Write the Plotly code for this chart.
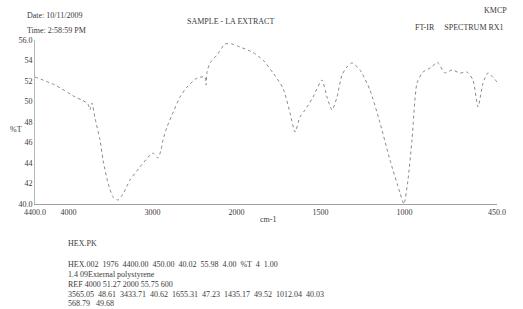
import plotly.graph_objects as go

# Spectrum data (wavenumber cm-1, %T)
wavenumber = [4400, 4162, 3900, 3840, 3770, 3746, 3721, 3686, 3626, 3590, 3531, 3471, 3412, 3352,
              3269, 3150, 3030, 2995, 2936, 2900, 2876, 2829, 2769, 2674, 2590, 2471, 2376, 2364,
              2352, 2317, 2233, 2138, 2055, 1980, 1908, 1843, 1783, 1724, 1682, 1652, 1623, 1593,
              1545, 1492, 1462, 1432, 1402, 1373, 1343, 1313, 1265, 1206, 1146, 1087, 1027, 1004,
              980, 956, 926, 890, 837, 807, 760, 718, 670, 629, 593, 563, 533, 504, 450]
transmittance = [52.39, 51.61, 50.34, 50.15, 49.76, 49.17, 49.85, 48.39, 46.24, 44.29, 42.05, 40.68,
                 40.39, 40.98, 42.34, 43.61, 44.78, 44.98, 44.49, 45.27, 46.24, 47.51, 48.68, 50.44,
                 51.41, 52.29, 52.39, 51.61, 52.88, 53.76, 54.54, 55.61, 55.61, 55.32, 54.83, 54.05,
                 52.78, 51.32, 48.88, 47.02, 48.49, 49.17, 50.44, 52.10, 50.44, 49.17, 50.44, 52.59,
                 53.37, 53.76, 53.07, 51.12, 47.90, 44.29, 41.07, 40.00, 42.34, 46.24, 51.80, 52.88,
                 53.37, 53.85, 52.78, 53.07, 52.78, 52.88, 52.10, 49.46, 51.80, 52.78, 51.90]

x_tick_values = [4400, 4000, 3000, 2000, 1500, 1000, 450]
x_tick_labels = ["4400.0", "4000", "3000", "2000", "1500", "1000", "450.0"]
y_tick_values = [40, 42, 44, 46, 48, 50, 52, 54, 56]
y_tick_labels = ["40.0", "42", "44", "46", "48", "50", "52", "54", "56.0"]

header_left = ["Date: 10/11/2009", "Time: 2:58:59 PM"]
sample_title = "SAMPLE - LA EXTRACT"
header_right = ["KMCP", "FT-IR     SPECTRUM RX1"]
footer_lines = [
    "HEX.PK",
    "HEX.002  1976  4400.00  450.00  40.02  55.98  4.00  %T  4  1.00",
    "1.4 09External polystyrene",
    "REF 4000 51.27 2000 55.75 600",
    "3565.05  48.61  3433.71  40.62  1655.31  47.23  1435.17  49.52  1012.04  40.03",
    "568.79   49.68",
]


# Instrument axis: scale changes by a factor of 2 at 2000 cm-1
def axis_pos(w):
    return (4400 - w) / 2 if w >= 2000 else 1200 + (2000 - w)


xs = [axis_pos(w) for w in wavenumber]

W, H = 523, 309
L, R, T, B = 35, 26, 40, 105
pw, ph = W - L - R, H - T - B


def px(x):
    return (x - L) / pw


def py(y):
    return (H - B - y) / ph


FONT = "Liberation Serif"
TXT = "#3a3a3a"

fig = go.Figure()
fig.add_trace(go.Scatter(x=xs, y=transmittance, mode="lines",
                         line=dict(color="#8a8a8a", width=1, dash="dot", shape="spline", smoothing=0.6),
                         hoverinfo="skip", showlegend=False))

fig.update_layout(
    width=W, height=H,
    margin=dict(l=L, r=R, t=T, b=B),
    paper_bgcolor="white", plot_bgcolor="white",
    font=dict(family=FONT, size=8, color=TXT),
    xaxis=dict(range=[0, axis_pos(450)], tickvals=[axis_pos(v) for v in x_tick_values],
               ticktext=x_tick_labels, showgrid=False, zeroline=False, showline=True,
               linecolor="#a0a0a0", linewidth=1, ticks="", tickfont=dict(size=8, color=TXT)),
    yaxis=dict(range=[40, 56], tickvals=y_tick_values, ticktext=y_tick_labels,
               showgrid=False, zeroline=False, showline=True, linecolor="#b8b8b8", linewidth=1,
               ticks="", tickfont=dict(size=8, color=TXT)),
)

ann = []
ann.append(dict(x=px(25), y=py(15), text=header_left[0]))
ann.append(dict(x=px(25), y=py(31), text=header_left[1]))
ann.append(dict(x=px(185), y=py(22), text=sample_title))
ann.append(dict(x=px(482), y=py(10), text=header_right[0]))
ann.append(dict(x=px(413), y=py(28), text=header_right[1]))
ann.append(dict(x=px(8), y=py(129), text="%T"))
ann.append(dict(x=px(258), y=py(219), text="cm-1"))
footer_y = [243, 264, 274, 284, 294, 303]
for t, yy in zip(footer_lines, footer_y):
    ann.append(dict(x=px(66), y=py(yy), text=t))
for a in ann:
    a.update(xref="paper", yref="paper", xanchor="left", yanchor="middle", showarrow=False,
             font=dict(family=FONT, size=8, color=TXT))
fig.update_layout(annotations=ann)

fig.write_html("out.html")
